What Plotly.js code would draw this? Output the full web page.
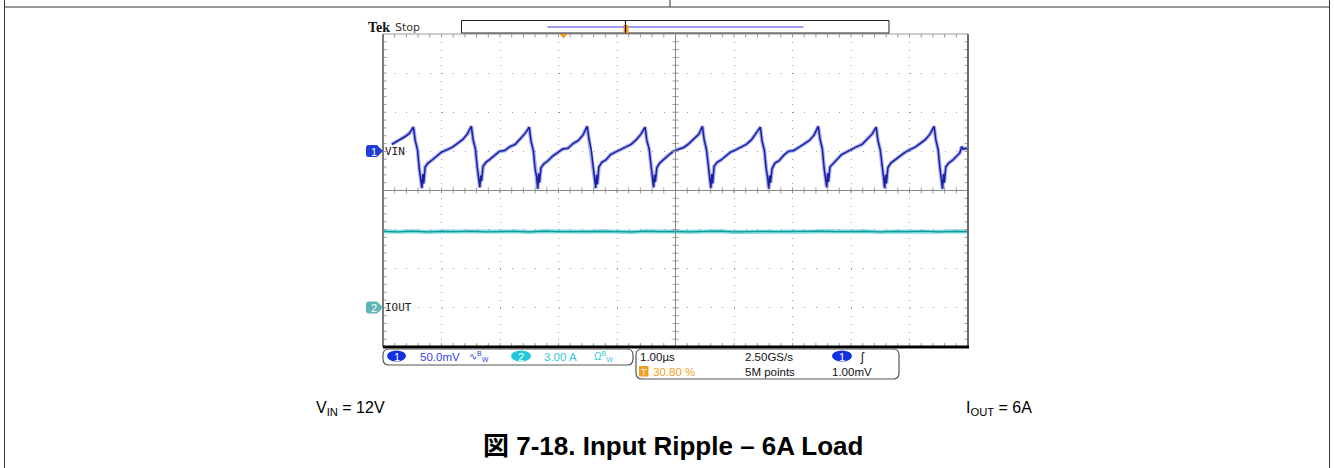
<!DOCTYPE html>
<html><head><meta charset="utf-8">
<script src="https://cdn.plot.ly/plotly-3.0.1.min.js"></script>
<style>html,body{margin:0;padding:0;background:#fff;} #chart{width:1334px;height:468px;}</style>
</head><body><div id="chart"></div>
<script>
// ---- data ----
// Channel 1 (VIN ripple, AC): time in µs, value in mV
const vinTime = [
0.15, 0.22, 0.30, 0.38, 0.45, 0.49,
0.52, 0.55, 0.59, 0.62, 0.645, 0.665, 0.68, 0.695, 0.72, 0.77, 0.84, 0.92, 1.00, 1.09, 1.18, 1.27, 1.36, 1.44,
1.51, 1.54, 1.58, 1.61, 1.635, 1.655, 1.67, 1.685, 1.71, 1.76, 1.83, 1.91, 1.99, 2.08, 2.17, 2.26, 2.35, 2.43,
2.50, 2.53, 2.57, 2.60, 2.625, 2.645, 2.66, 2.675, 2.70, 2.75, 2.82, 2.90, 2.98, 3.07, 3.16, 3.25, 3.34, 3.42,
3.49, 3.52, 3.56, 3.59, 3.615, 3.635, 3.65, 3.665, 3.69, 3.74, 3.81, 3.89, 3.97, 4.06, 4.15, 4.24, 4.33, 4.41,
4.48, 4.51, 4.55, 4.58, 4.605, 4.625, 4.64, 4.655, 4.68, 4.73, 4.80, 4.88, 4.96, 5.05, 5.14, 5.23, 5.32, 5.40,
5.46, 5.49, 5.53, 5.56, 5.585, 5.605, 5.62, 5.635, 5.66, 5.71, 5.78, 5.86, 5.94, 6.03, 6.12, 6.21, 6.30, 6.38,
6.45, 6.48, 6.52, 6.55, 6.575, 6.595, 6.61, 6.625, 6.65, 6.70, 6.77, 6.85, 6.93, 7.02, 7.11, 7.20, 7.29, 7.37,
7.44, 7.47, 7.51, 7.54, 7.565, 7.585, 7.60, 7.615, 7.64, 7.69, 7.76, 7.84, 7.92, 8.01, 8.10, 8.19, 8.28, 8.36,
8.43, 8.46, 8.50, 8.53, 8.555, 8.575, 8.59, 8.605, 8.63, 8.68, 8.75, 8.83, 8.91, 9.00, 9.09, 9.18, 9.27, 9.35,
9.42, 9.45, 9.49, 9.52, 9.545, 9.565, 9.58, 9.595, 9.62, 9.67, 9.74, 9.82, 9.86, 9.89, 9.92, 9.96, 10.0
];
const vinMv = [
9, 12, 15, 19, 23, 27,
31, 14, 2, -22, -33, -47, -29, -41, -20, -15, -11, -6, -1, 2, 5, 10, 15, 22,
32, 15, 3, -20, -35, -46, -31, -38, -19, -14, -10, -5, 0, 1, 6, 9, 16, 23,
31, 13, 1, -23, -32, -48, -28, -40, -21, -16, -12, -6, -2, 3, 4, 10, 14, 21,
32, 16, 2, -21, -34, -47, -30, -42, -20, -14, -11, -4, -1, 2, 6, 9, 15, 22,
31, 14, 3, -22, -33, -46, -30, -39, -21, -15, -10, -5, 0, 3, 5, 10, 16, 22,
32, 15, 2, -20, -34, -47, -29, -41, -19, -14, -11, -6, -1, 2, 6, 9, 15, 23,
31, 13, 1, -22, -33, -48, -31, -40, -22, -15, -12, -5, 0, 1, 5, 10, 14, 21,
32, 16, 3, -21, -35, -46, -28, -39, -20, -16, -10, -4, -1, 3, 6, 9, 16, 22,
31, 14, 2, -22, -32, -47, -30, -41, -21, -15, -11, -6, -2, 2, 5, 10, 15, 22,
32, 15, 2, -21, -34, -48, -29, -40, -20, -15, -11, -5, -2, 6, 3, 4, 3
];
// Channel 2 (IOUT): time in µs, value in A
const ioutTime = [0, 0.25, 0.5, 0.75, 1, 1.25, 1.5, 1.75, 2, 2.25, 2.5, 2.75, 3, 3.25, 3.5, 3.75, 4, 4.25, 4.5, 4.75, 5,
  5.25, 5.5, 5.75, 6, 6.25, 6.5, 6.75, 7, 7.25, 7.5, 7.75, 8, 8.25, 8.5, 8.75, 9, 9.25, 9.5, 9.75, 10];
const ioutAmp = [5.87, 5.83, 5.88, 5.82, 5.86, 5.84, 5.89, 5.83, 5.85, 5.87, 5.82, 5.88, 5.84, 5.86, 5.83, 5.87, 5.85, 5.82, 5.88, 5.84, 5.87,
  5.83, 5.86, 5.88, 5.82, 5.85, 5.87, 5.84, 5.86, 5.83, 5.88, 5.84, 5.85, 5.87, 5.82, 5.86, 5.84, 5.88, 5.83, 5.87, 5.85];
// Scale settings (div = 1 µs, 50 mV, 3 A)
const timeRange = [0, 10];
const vinRange = [-250, 150];
const ioutRange = [-3, 21];
// Texts
const ch1Label = 'VIN', ch2Label = 'IOUT';
const ch1Scale = '50.0mV', ch2Scale = '3.00 A';
const timeBase = '1.00µs', sampleRate = '2.50GS/s', recordLen = '5M points';
const trigPos = '30.80 %', trigLevel = '1.00mV';
const captionLeft = 'V<sub>IN</sub> = 12V';
const captionRight = 'I<sub>OUT</sub> = 6A';
const figTitle = '<b>図 7-18. Input Ripple – 6A Load</b>';

// ---- layout geometry (pixels) ----
const W = 1334, H = 468;
const PL = 383, PR = 968, PT = 34, PB = 347;
const fx = p => (p - PL) / (PR - PL);
const fy = p => (PB - p) / (PB - PT);
const shapes = [];
const annotations = [];
function seg(x0, y0, x1, y1, color, width) {
  shapes.push({type: 'line', xref: 'paper', yref: 'paper', x0: fx(x0), y0: fy(y0), x1: fx(x1), y1: fy(y1),
    line: {color: color, width: width}, layer: 'above'});
}
function rrect(x0, y0, x1, y1, r) {
  return `M${fx(x0 + r)},${fy(y0)} L${fx(x1 - r)},${fy(y0)} Q${fx(x1)},${fy(y0)} ${fx(x1)},${fy(y0 + r)} ` +
    `L${fx(x1)},${fy(y1 - r)} Q${fx(x1)},${fy(y1)} ${fx(x1 - r)},${fy(y1)} L${fx(x0 + r)},${fy(y1)} ` +
    `Q${fx(x0)},${fy(y1)} ${fx(x0)},${fy(y1 - r)} L${fx(x0)},${fy(y0 + r)} Q${fx(x0)},${fy(y0)} ${fx(x0 + r)},${fy(y0)} Z`;
}
function pathShape(path, fill, lineColor, lw) {
  shapes.push({type: 'path', xref: 'paper', yref: 'paper', path: path, fillcolor: fill,
    line: {color: lineColor, width: lw}, layer: 'above'});
}
function rect(x0, y0, x1, y1, fill, lineColor, lw) {
  shapes.push({type: 'rect', xref: 'paper', yref: 'paper', x0: fx(x0), y0: fy(y0), x1: fx(x1), y1: fy(y1),
    fillcolor: fill, line: {color: lineColor, width: lw}, layer: 'above'});
}
function ellipse(x0, y0, x1, y1, fill) {
  shapes.push({type: 'circle', xref: 'paper', yref: 'paper', x0: fx(x0), y0: fy(y0), x1: fx(x1), y1: fy(y1),
    fillcolor: fill, line: {width: 0}, layer: 'above'});
}
function ann(text, x, y, opts) {
  const a = {text: text, x: fx(x), y: fy(y), xref: 'paper', yref: 'paper', showarrow: false,
    xanchor: 'left', yanchor: 'middle', borderpad: 0,
    font: {family: 'Liberation Sans, Arial, sans-serif', size: 11, color: '#000'}};
  if (opts) { if (opts.font) { Object.assign(a.font, opts.font); delete opts.font; } Object.assign(a, opts); }
  annotations.push(a);
}

// outer page frame
seg(4.5, 0, 4.5, H, '#333', 1);
seg(4.5, 7, 1330, 7, '#333', 1);
seg(670, 0, 670, 7, '#333', 1);
seg(1329.5, 0, 1329.5, H, '#333', 1);

// graticule ticks
const CX = (PL + PR) / 2, CY = (PB + PT) / 2;
const dx = (PR - PL) / 50, dy = (PB - PT) / 40;
for (let i = 1; i < 50; i++) {
  const x = PL + i * dx;
  seg(x, PT, x, PT + 3.5, '#9a9a9a', 1);
  seg(x, PB - 4, x, PB, '#9a9a9a', 1);
  seg(x, CY - 3, x, CY + 3, '#9a9a9a', 1);
}
for (let j = 1; j < 40; j++) {
  const y = PT + j * dy;
  seg(PL, y, PL + 3.5, y, '#9a9a9a', 1);
  seg(PR - 3.5, y, PR, y, '#9a9a9a', 1);
  seg(CX - 3, y, CX + 3, y, '#9a9a9a', 1);
}
seg(CX, PT, CX, PB, '#8a8a8a', 1);
seg(PL, CY, PR, CY, '#8a8a8a', 1);
seg(PL, PT, PR, PT, '#9a9a9a', 1);
seg(PL, PT, PL, PB, '#7a7a7a', 2);
seg(PR, PT, PR, PB, '#6a6a6a', 2);
seg(PL, PB, PR + 1, PB, '#000', 3);

// record bar
rect(461.5, 20.5, 889, 33, '#fff', '#222', 1);
seg(547.5, 27, 803.5, 27, '#7c7cf2', 1.5);
rect(623.5, 25, 628.5, 33, '#f29a1e', '#f29a1e', 0);
seg(625.5, 20.5, 625.5, 33, '#111', 1.2);
// trigger position marker
pathShape(`M${fx(559.5)},${fy(34)} L${fx(567.5)},${fy(34)} L${fx(563.5)},${fy(38.5)} Z`, '#f29a1e', '#f29a1e', 0);

// channel markers
function chMarker(yc, color) {
  const p = `M${fx(368.5)},${fy(yc - 6)} L${fx(377)},${fy(yc - 6)} L${fx(383)},${fy(yc)} L${fx(377)},${fy(yc + 6)} ` +
    `L${fx(368.5)},${fy(yc + 6)} Q${fx(366)},${fy(yc + 6)} ${fx(366)},${fy(yc + 3)} L${fx(366)},${fy(yc - 3)} Q${fx(366)},${fy(yc - 6)} ${fx(368.5)},${fy(yc - 6)} Z`;
  pathShape(p, color, color, 0);
}
chMarker(151, '#1f3fd8');
chMarker(307.5, '#5fb4b8');
ann('1', 373.5, 151.5, {xanchor: 'center', font: {size: 11, color: '#fff'}});
ann('2', 373.5, 308, {xanchor: 'center', font: {size: 11, color: '#fff'}});
ann(ch1Label, 384, 151, {font: {family: 'DejaVu Sans Mono, monospace', size: 11, color: '#222'}});
ann(ch2Label, 384, 307.5, {font: {family: 'DejaVu Sans Mono, monospace', size: 11, color: '#222'}});

// Tek Stop
ann('<b>Tek</b>', 367, 27.5, {font: {family: 'Liberation Serif, serif', size: 14, color: '#111'}});
ann('Stop', 393.5, 27, {font: {family: 'DejaVu Sans, sans-serif', size: 11, color: '#333'}});

// status boxes
pathShape(rrect(383, 349, 633, 365, 6), 'rgba(0,0,0,0)', '#555', 1.2);
pathShape(rrect(636, 349, 899, 379, 6), 'rgba(0,0,0,0)', '#555', 1.2);
ellipse(387, 350.5, 406, 361.5, '#1430e0');
ellipse(511, 350.5, 531, 361.5, '#20c8d8');
ellipse(832, 350.5, 852, 361.5, '#1430e0');
ann('1', 396.5, 356.5, {xanchor: 'center', font: {size: 11, color: '#fff'}});
ann('2', 521, 356.5, {xanchor: 'center', font: {size: 11, color: '#fff'}});
ann('1', 842, 356.5, {xanchor: 'center', font: {size: 11, color: '#fff'}});
const blue = '#3344dd', cyan = '#33c8dc', orange = '#f5a020';
ann(ch1Scale, 419, 356.5, {font: {color: blue, size: 11.5}});
ann('∿<sup>B</sup><sub>W</sub>', 468, 356, {font: {color: blue, size: 10}});
ann(ch2Scale, 543, 356.5, {font: {color: cyan, size: 11.5}});
ann('Ω<sup>B</sup><sub>W</sub>', 593, 356, {font: {color: cyan, size: 10}});
ann(timeBase, 639, 356.5, {font: {color: '#111', size: 11.5}});
ann(sampleRate, 744, 356.5, {font: {color: '#111', size: 11.5}});
ann('ʃ', 859, 356.5, {font: {color: '#111', size: 12}});
rect(639, 366, 648.5, 376.5, orange, orange, 0);
ann('T', 643.8, 371.5, {xanchor: 'center', font: {color: '#fff', size: 9}});
ann(trigPos, 652, 371.5, {font: {color: orange, size: 11.5}});
ann(recordLen, 744, 371.5, {font: {color: '#111', size: 11.5}});
ann(trigLevel, 831, 371.5, {font: {color: '#111', size: 11.5}});

// captions
ann(captionLeft, 315, 408, {font: {size: 16, color: '#000'}});
ann(captionRight, 965, 408, {font: {size: 16, color: '#000'}});
ann(figTitle, 673, 446, {xanchor: 'center', font: {family: 'Liberation Sans, Arial, Noto Sans CJK JP, sans-serif', size: 26, color: '#000'}});

const traces = [
  {x: vinTime, y: vinMv, type: 'scatter', mode: 'lines', line: {color: 'rgba(95,105,235,0.55)', width: 3.8}, hoverinfo: 'skip'},
  {x: vinTime, y: vinMv, type: 'scatter', mode: 'lines', line: {color: '#1a1f9c', width: 1.5}, hoverinfo: 'skip'},
  {x: ioutTime, y: ioutAmp, yaxis: 'y2', type: 'scatter', mode: 'lines', line: {color: 'rgba(70,200,205,0.7)', width: 4}, hoverinfo: 'skip'},
  {x: ioutTime, y: ioutAmp, yaxis: 'y2', type: 'scatter', mode: 'lines', line: {color: '#0f9a9e', width: 1.2}, hoverinfo: 'skip'}
];

const layout = {
  width: W, height: H,
  margin: {l: PL, r: W - PR, t: PT, b: H - PB, pad: 0},
  paper_bgcolor: '#fff', plot_bgcolor: '#fff',
  showlegend: false,
  xaxis: {range: timeRange, dtick: 1, tick0: 0, showgrid: true, gridcolor: '#9a9a9a', gridwidth: 1,
    griddash: '1px,6.83px', showticklabels: false, ticks: '', zeroline: false, showline: false, fixedrange: true},
  yaxis: {range: vinRange, dtick: 50, tick0: 0, showgrid: true, gridcolor: '#9a9a9a', gridwidth: 1,
    griddash: '1px,10.7px', showticklabels: false, ticks: '', zeroline: false, showline: false, fixedrange: true},
  yaxis2: {range: ioutRange, overlaying: 'y', showgrid: false, showticklabels: false, ticks: '', zeroline: false,
    showline: false, fixedrange: true},
  shapes: shapes,
  annotations: annotations
};
Plotly.newPlot('chart', traces, layout, {displayModeBar: false, staticPlot: true});
</script>
</body></html>
